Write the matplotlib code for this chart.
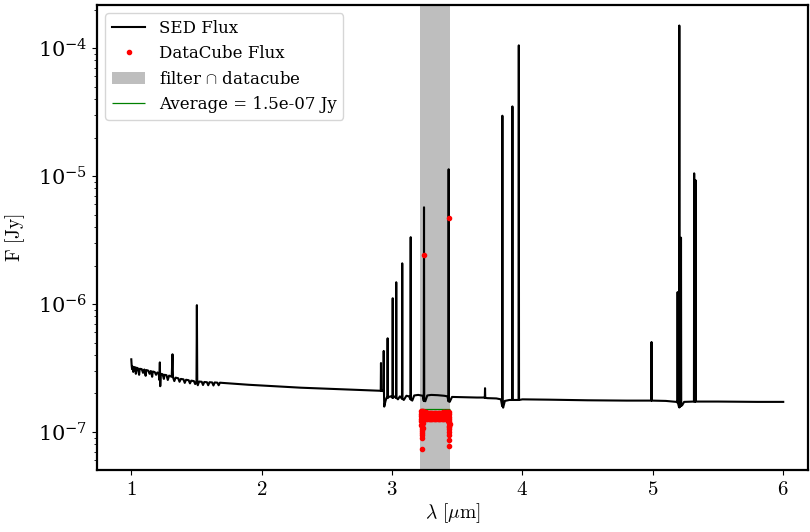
import numpy as np
import matplotlib
matplotlib.use("Agg")
import matplotlib.pyplot as plt
from matplotlib.ticker import FormatStrFormatter

plt.rcParams['font.family'] = ['DejaVu Serif']
plt.rcParams['mathtext.fontset'] = 'cm'

# ---------------- data ----------------
# noisy near-IR part of the SED
nir_wave = [1.000, 1.003, 1.006, 1.010, 1.015, 1.020, 1.030, 1.035, 1.040, 1.050,
            1.060, 1.065, 1.080, 1.090, 1.100, 1.110, 1.115, 1.130, 1.140, 1.150,
            1.160, 1.165, 1.180, 1.190, 1.200, 1.210, 1.215, 1.219, 1.222, 1.226,
            1.240, 1.250, 1.255, 1.270, 1.280, 1.290, 1.300, 1.310, 1.316, 1.320,
            1.330, 1.340, 1.360, 1.370, 1.380, 1.400, 1.410, 1.420, 1.440, 1.450,
            1.460, 1.480, 1.490, 1.500, 1.503, 1.506, 1.510, 1.520, 1.540, 1.550,
            1.560, 1.580, 1.590, 1.600, 1.620, 1.630, 1.640, 1.660, 1.670, 1.680]
nir_flux = [3.7e-7, 3.3e-7, 3.1e-7, 3.25e-7, 2.95e-7, 3.22e-7, 3.2e-7, 2.85e-7, 3.18e-7, 3.15e-7,
            2.8e-7, 3.12e-7, 3.1e-7, 2.9e-7, 3.08e-7, 2.75e-7, 3.05e-7, 3.02e-7, 2.85e-7, 3.0e-7,
            2.7e-7, 2.97e-7, 2.94e-7, 2.8e-7, 2.92e-7, 2.88e-7, 2.55e-7, 3.5e-7, 2.28e-7, 2.85e-7,
            2.83e-7, 2.6e-7, 2.8e-7, 2.78e-7, 2.55e-7, 2.76e-7, 2.73e-7, 2.7e-7, 4.05e-7, 2.68e-7,
            2.5e-7, 2.66e-7, 2.63e-7, 2.47e-7, 2.6e-7, 2.58e-7, 2.42e-7, 2.56e-7, 2.54e-7, 2.4e-7,
            2.52e-7, 2.5e-7, 2.37e-7, 2.5e-7, 9.8e-7, 2.4e-7, 2.32e-7, 2.48e-7, 2.47e-7, 2.33e-7,
            2.46e-7, 2.45e-7, 2.32e-7, 2.45e-7, 2.44e-7, 2.31e-7, 2.44e-7, 2.43e-7, 2.32e-7, 2.43e-7]

# smooth continuum of the SED (including absorption dips)
cont_wave = [1.70, 1.80, 1.90, 2.00, 2.10, 2.20, 2.30, 2.40, 2.50, 2.60, 2.70, 2.80,
             2.88, 2.905, 2.925, 2.940, 2.950, 2.958, 2.975, 2.990, 3.015, 3.045,
             3.060, 3.090, 3.110, 3.130, 3.155, 3.170, 3.200, 3.235, 3.255, 3.270,
             3.300, 3.350, 3.400, 3.425, 3.442, 3.460, 3.550, 3.650, 3.700, 3.730,
             3.800, 3.835, 3.852, 3.865, 3.900, 3.950, 4.000, 4.200, 4.500, 4.800,
             5.100, 5.180, 5.209, 5.225, 5.240, 5.300, 5.340, 5.500, 5.800, 6.000]
cont_flux = [2.42e-7, 2.38e-7, 2.34e-7, 2.31e-7, 2.28e-7, 2.25e-7, 2.22e-7, 2.20e-7,
             2.18e-7, 2.16e-7, 2.14e-7, 2.12e-7, 2.11e-7, 2.10e-7, 2.10e-7, 1.58e-7,
             1.75e-7, 1.85e-7, 1.88e-7, 1.90e-7, 1.90e-7, 1.80e-7, 1.90e-7, 1.78e-7,
             1.92e-7, 1.90e-7, 1.76e-7, 1.93e-7, 1.95e-7, 1.92e-7, 1.74e-7, 1.93e-7,
             1.95e-7, 1.94e-7, 1.92e-7, 1.90e-7, 1.72e-7, 1.88e-7, 1.87e-7, 1.86e-7,
             1.86e-7, 1.84e-7, 1.83e-7, 1.80e-7, 1.55e-7, 1.75e-7, 1.78e-7, 1.78e-7,
             1.80e-7, 1.79e-7, 1.77e-7, 1.76e-7, 1.75e-7, 1.72e-7, 1.58e-7, 1.62e-7,
             1.72e-7, 1.73e-7, 1.73e-7, 1.73e-7, 1.72e-7, 1.72e-7]

# emission lines: centre, peak flux, local base flux
line_wave = [2.915, 2.936, 2.966, 3.005, 3.032, 3.078, 3.143, 3.245, 3.434, 3.713,
             3.846, 3.923, 3.972, 4.990, 5.190, 5.203, 5.216, 5.317, 5.327]
line_peak = [3.46e-7, 4.3e-7, 5.4e-7, 1.11e-6, 1.48e-6, 2.08e-6, 3.33e-6, 5.7e-6, 1.13e-5, 2.2e-7,
             2.96e-5, 3.5e-5, 1.05e-4, 5.05e-7, 1.24e-6, 1.5e-4, 3.3e-6, 1.05e-5, 9.3e-6]
line_base = [2.10e-7, 2.08e-7, 1.85e-7, 1.85e-7, 1.85e-7, 1.82e-7, 1.80e-7, 1.75e-7, 1.74e-7, 1.85e-7,
             1.60e-7, 1.78e-7, 1.78e-7, 1.76e-7, 1.70e-7, 1.56e-7, 1.60e-7, 1.73e-7, 1.73e-7]

# datacube flux points (multiple spaxels per wavelength)
dc_wave = [3.220, 3.230, 3.240, 3.250, 3.260, 3.270, 3.280, 3.290, 3.300, 3.310, 3.320, 3.330,
           3.340, 3.350, 3.360, 3.370, 3.380, 3.390, 3.400, 3.410, 3.420, 3.430, 3.440]
dc_flux_top = [1.45e-7, 1.46e-7, 1.45e-7, 1.44e-7, 1.43e-7, 1.42e-7, 1.42e-7, 1.42e-7, 1.42e-7,
               1.42e-7, 1.42e-7, 1.42e-7, 1.42e-7, 1.42e-7, 1.42e-7, 1.42e-7, 1.42e-7, 1.43e-7,
               1.43e-7, 1.43e-7, 1.44e-7, 1.44e-7, 1.43e-7]
dc_flux_mid = [1.39e-7, 1.40e-7, 1.39e-7, 1.38e-7, 1.37e-7, 1.37e-7, 1.37e-7, 1.37e-7, 1.37e-7,
               1.37e-7, 1.37e-7, 1.37e-7, 1.37e-7, 1.37e-7, 1.37e-7, 1.37e-7, 1.37e-7, 1.38e-7,
               1.38e-7, 1.38e-7, 1.39e-7, 1.39e-7, 1.38e-7]
dc_flux_mid2 = [1.33e-7, 1.34e-7, 1.33e-7, 1.32e-7, 1.31e-7, 1.31e-7, 1.31e-7, 1.31e-7, 1.31e-7,
                1.31e-7, 1.31e-7, 1.31e-7, 1.31e-7, 1.31e-7, 1.31e-7, 1.31e-7, 1.31e-7, 1.31e-7,
                1.32e-7, 1.32e-7, 1.33e-7, 1.33e-7, 1.32e-7]
dc_flux_low = [1.26e-7, 1.27e-7, 1.27e-7, 1.28e-7, 1.27e-7, 1.26e-7, 1.26e-7, 1.26e-7, 1.26e-7,
               1.26e-7, 1.26e-7, 1.26e-7, 1.26e-7, 1.26e-7, 1.26e-7, 1.26e-7, 1.26e-7, 1.26e-7,
               1.26e-7, 1.26e-7, 1.26e-7, 1.26e-7, 1.26e-7]
dc_tail_wave = [3.222, 3.232, 3.226, 3.236, 3.224, 3.232, 3.228, 3.234, 3.226, 3.230,
                3.228, 3.229, 3.231, 3.228,
                3.432, 3.440, 3.436, 3.442, 3.434, 3.440, 3.438, 3.436, 3.437, 3.435, 3.436]
dc_tail_flux = [1.22e-7, 1.21e-7, 1.18e-7, 1.17e-7, 1.14e-7, 1.13e-7, 1.10e-7, 1.08e-7, 1.05e-7, 1.02e-7,
                9.9e-8, 9.5e-8, 9.0e-8, 7.4e-8,
                1.22e-7, 1.21e-7, 1.18e-7, 1.16e-7, 1.12e-7, 1.10e-7, 1.06e-7, 1.00e-7, 9.4e-8, 8.6e-8, 7.8e-8]
dc_peak_wave = [3.245, 3.434]
dc_peak_flux = [2.4e-6, 4.7e-6]

filt_lo, filt_hi = 3.215, 3.443
avg_flux = 1.5e-7

# ---------------- build SED polyline ----------------
pts = list(zip(nir_wave, nir_flux)) + list(zip(cont_wave, cont_flux))
dw = 0.0018
for w, p, b in zip(line_wave, line_peak, line_base):
    pts += [(w - dw, b), (w, p), (w + dw, b)]
pts.sort(key=lambda t: t[0])
sed_w = np.array([p[0] for p in pts])
sed_f = np.array([p[1] for p in pts])

dc_w_all = np.concatenate([dc_wave, dc_wave, dc_wave, dc_wave, dc_tail_wave, dc_peak_wave])
dc_f_all = np.concatenate([dc_flux_top, dc_flux_mid, dc_flux_mid2, dc_flux_low,
                           dc_tail_flux, dc_peak_flux])

# ---------------- plot ----------------
fig = plt.figure(figsize=(8.1, 5.32), dpi=100)
ax = fig.add_axes([97/810, 1-470/532, (808-97)/810, (470-5)/532])

ax.axvspan(filt_lo, filt_hi, color='#bebebe', lw=0, label=r'filter $\cap$ datacube', zorder=1)
ax.plot(sed_w, sed_f, color='black', lw=1.5, label='SED Flux', zorder=3)
ax.plot(dc_w_all, dc_f_all, '.', color='red', ms=6, label='DataCube Flux', zorder=4)
ax.hlines(avg_flux, filt_lo, filt_hi, color='green', lw=0.9,
          label='Average = %.1e Jy' % avg_flux, zorder=2)

ax.set_yscale('log')
ax.set_xlim(0.737, 6.19)
ax.set_ylim(5.05e-8, 2.17e-4)
ax.xaxis.set_major_formatter(FormatStrFormatter(r'$%d$'))

for s in ax.spines.values():
    s.set_linewidth(1.6)
ax.tick_params(axis='both', labelsize=15)
ax.set_xlabel(r'$\lambda\ [\mu\mathrm{m}]$', fontsize=14, labelpad=2)
ax.set_ylabel(r'$\mathrm{F\ [Jy]}$', fontsize=14, labelpad=8)

handles, labels = ax.get_legend_handles_labels()
order = [1, 2, 0, 3]
ax.legend([handles[i] for i in order], [labels[i] for i in order],
          loc='upper left', fontsize=12)

fig.savefig('out.png', dpi=100)
